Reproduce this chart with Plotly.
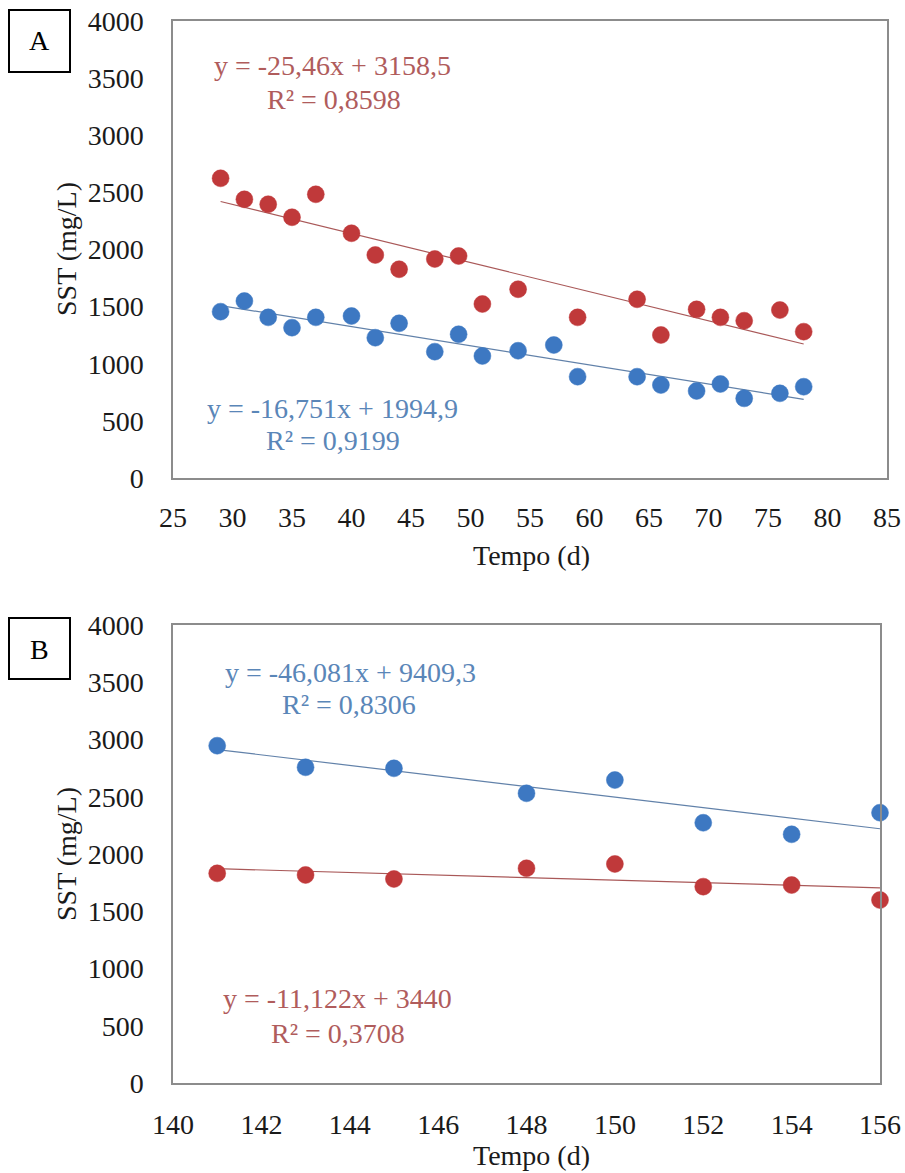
import plotly.graph_objects as go

# ---------------- Data ----------------
# Panel A
a_red_x = [29, 31, 33, 35, 37, 40, 42, 44, 47, 49, 51, 54, 59, 64, 66, 69, 71, 73, 76, 78]
a_red_y = [2623, 2439, 2396, 2282, 2483, 2142, 1952, 1827, 1917, 1943, 1523, 1652, 1406,
           1564, 1252, 1476, 1406, 1377, 1470, 1281]
a_blue_x = [29, 31, 33, 35, 37, 40, 42, 44, 47, 49, 51, 54, 57, 59, 64, 66, 69, 71, 73, 76, 78]
a_blue_y = [1456, 1549, 1406, 1316, 1406, 1418, 1228, 1354, 1106, 1258, 1068, 1114, 1164,
            887, 887, 814, 762, 823, 697, 741, 799]
a_red_fit = (-25.46, 3158.5)
a_blue_fit = (-16.751, 1994.9)
a_red_label = ["y = -25,46x + 3158,5", "R² = 0,8598"]
a_blue_label = ["y = -16,751x + 1994,9", "R² = 0,9199"]

# Panel B
b_x = [141, 143, 145, 148, 150, 152, 154, 156]
b_blue_y = [2946, 2757, 2748, 2530, 2646, 2273, 2172, 2361]
b_red_y = [1831, 1817, 1782, 1875, 1913, 1715, 1729, 1598]
b_blue_fit = (-46.081, 9409.3)
b_red_fit = (-11.122, 3440)
b_blue_label = ["y = -46,081x + 9409,3", "R² = 0,8306"]
b_red_label = ["y = -11,122x + 3440", "R² = 0,3708"]

y_ticks = [0, 500, 1000, 1500, 2000, 2500, 3000, 3500, 4000]
a_x_ticks = [25, 30, 35, 40, 45, 50, 55, 60, 65, 70, 75, 80, 85]
b_x_ticks = [140, 142, 144, 146, 148, 150, 152, 154, 156]
x_title = "Tempo (d)"
y_title = "SST (mg/L)"
panel_labels = ["A", "B"]

# ---------------- Styling ----------------
W, H = 905, 1173
FONT = "Liberation Serif"
FS = 28
RED = "#c0393a"
BLUE = "#3d78c2"
RED_LINE = "rgba(160,70,70,0.9)"
BLUE_LINE = "rgba(80,115,160,0.9)"
RED_TXT = "#b05c5c"
BLUE_TXT = "#5a86b8"
BOX = "#8c8c8c"
INK = "#1a1a1a"


def px(x):
    return x / W


def py(y):
    return 1 - y / H


fig = go.Figure()


def add_panel(xs_r, ys_r, xs_b, ys_b, fit_r, fit_b, xa, ya):
    for xs, fit, col in ((xs_r, fit_r, RED_LINE), (xs_b, fit_b, BLUE_LINE)):
        x0, x1 = min(xs), max(xs)
        fig.add_trace(go.Scatter(x=[x0, x1], y=[fit[0] * x0 + fit[1], fit[0] * x1 + fit[1]],
                                 mode="lines", line=dict(color=col, width=1.2),
                                 xaxis=xa, yaxis=ya, showlegend=False, hoverinfo="skip"))
    for xs, ys, col in ((xs_r, ys_r, RED), (xs_b, ys_b, BLUE)):
        fig.add_trace(go.Scatter(x=xs, y=ys, mode="markers",
                                 marker=dict(size=17, color=col, line=dict(width=0.5, color=col)),
                                 xaxis=xa, yaxis=ya, showlegend=False, cliponaxis=False))


add_panel(a_red_x, a_red_y, a_blue_x, a_blue_y, a_red_fit, a_blue_fit, "x", "y")
add_panel(b_x, b_red_y, b_x, b_blue_y, b_red_fit, b_blue_fit, "x2", "y2")

axis_common = dict(showgrid=False, zeroline=False, showline=True, linecolor=BOX, linewidth=1.5,
                   mirror=True, ticks="", automargin=False,
                   tickfont=dict(family=FONT, size=FS, color=INK))

fig.update_layout(
    width=W, height=H,
    margin=dict(l=0, r=0, t=0, b=0),
    paper_bgcolor="white", plot_bgcolor="white",
    xaxis=dict(domain=[px(173), px(887)], range=[25, 85], tickvals=a_x_ticks,
               anchor="y", ticklabelstandoff=14, **axis_common),
    yaxis=dict(domain=[py(478), py(21)], range=[0, 4000], tickvals=y_ticks,
               anchor="x", ticklabelstandoff=22, **axis_common),
    xaxis2=dict(domain=[px(173), px(880)], range=[140, 156], tickvals=b_x_ticks,
                anchor="y2", ticklabelstandoff=16, **axis_common),
    yaxis2=dict(domain=[py(1083), py(625)], range=[0, 4000], tickvals=y_ticks,
                anchor="x2", ticklabelstandoff=22, **axis_common),
)

annotations = []


def text(t, x, y, color, size=FS, angle=0, yanchor="middle"):
    annotations.append(dict(text=t, x=px(x), y=py(y), xref="paper", yref="paper",
                            showarrow=False, textangle=angle, xanchor="center", yanchor=yanchor,
                            font=dict(family=FONT, size=size, color=color)))


# equation labels
text(a_red_label[0], 332, 66, RED_TXT)
text(a_red_label[1], 334, 100, RED_TXT)
text(a_blue_label[0], 332, 408, BLUE_TXT)
text(a_blue_label[1], 333, 441, BLUE_TXT)
text(b_blue_label[0], 350, 672, BLUE_TXT)
text(b_blue_label[1], 349, 704, BLUE_TXT)
text(b_red_label[0], 337, 998, RED_TXT)
text(b_red_label[1], 338, 1033, RED_TXT)

# axis titles
text(x_title, 531, 555, INK)
text(x_title, 531, 1173, INK, yanchor="bottom")
text(y_title, 66, 249, INK, angle=-90)
text(y_title, 66, 854, INK, angle=-90)

# panel letters
text(panel_labels[0], 39, 41, "#000000")
text(panel_labels[1], 39, 649, "#000000")

fig.update_layout(annotations=annotations)

shapes = [
    dict(type="rect", xref="paper", yref="paper", x0=px(9), x1=px(70), y0=py(72), y1=py(10),
         line=dict(color="black", width=2), fillcolor="rgba(0,0,0,0)"),
    dict(type="rect", xref="paper", yref="paper", x0=px(9), x1=px(70), y0=py(679), y1=py(618),
         line=dict(color="black", width=2), fillcolor="rgba(0,0,0,0)"),
]
fig.update_layout(shapes=shapes)

fig.write_html("out.html")
